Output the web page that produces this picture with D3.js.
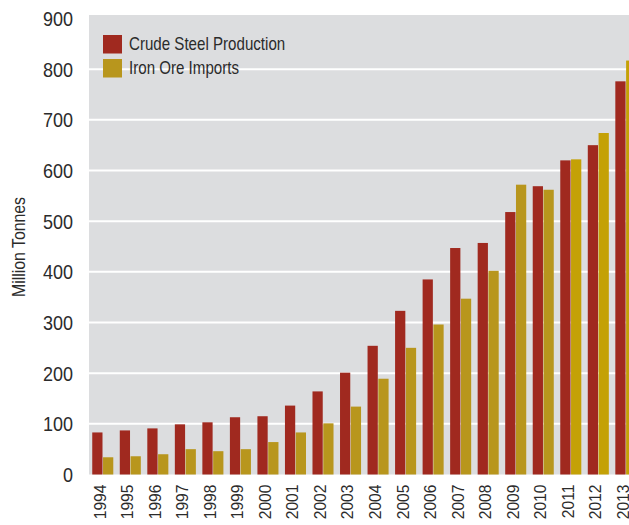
<!DOCTYPE html>
<html>
<head>
<meta charset="utf-8">
<script src="https://cdn.jsdelivr.net/npm/d3@7"></script>
<style>
  body { margin: 0; background: #fff; }
  text { font-family: "Liberation Sans", Arial, sans-serif; fill: #2b2b2b; }
</style>
</head>
<body>
<script>
// chart values
var years = ["1994","1995","1996","1997","1998","1999","2000","2001","2002","2003",
             "2004","2005","2006","2007","2008","2009","2010","2011","2012","2013"];
var steel = [83, 87, 91, 99, 103, 113, 115, 136, 164, 201,
             254, 323, 385, 447, 457, 518, 569, 620, 650, 776];
var ore   = [34, 36, 40, 50, 46, 50, 64, 83, 101, 134,
             189, 250, 296, 347, 402, 572, 562, 622, 674, 817];
var seriesNames = ["Crude Steel Production", "Iron Ore Imports"];
var yTicks = [0, 100, 200, 300, 400, 500, 600, 700, 800, 900];

var width = 629;
var height = 525;

// the original uses a condensed face; squeeze the text sideways to match
var squeeze = 0.84;

var svg = d3.select("body").append("svg")
  .attr("width", width)
  .attr("height", height)

var plotLeft = 89, plotTop = 15, plotBottom = 474.5;

var y = d3.scaleLinear()
  .domain([0, 900])
  .range([plotBottom, 18.5]);

var x = d3.scaleBand()
  .domain(years)
  .range([89, 89 + 20 * 27.53])
  .paddingInner(0.236)
  .paddingOuter(0.118);

var xs = d3.scaleBand()
  .domain(seriesNames)
  .range([0, x.bandwidth()])
  .paddingInner(0.05);

// grey plot background
svg.append("rect")
  .attr("x", plotLeft)
  .attr("y", plotTop)
  .attr("width", width - plotLeft)
  .attr("height", plotBottom - plotTop)
  .attr("fill", "#dcdddf");

// white gridlines
svg.selectAll(".grid")
  .data(yTicks.filter(function(d) { return d > 0 && d < 900; }))
  .enter().append("line")
    .attr("class", "grid")
    .attr("x1", plotLeft)
    .attr("x2", width)
    .attr("y1", function(d) { return y(d); })
    .attr("y2", function(d) { return y(d); })
    .attr("stroke", "#fff")
    .attr("stroke-width", 2);

// y axis labels (no domain line or ticks)
var yAxis = svg.append("g")
  .attr("transform", "translate(73,0)")
  .call(d3.axisLeft(y).tickValues(yTicks).tickSize(0).tickPadding(0));
yAxis.select(".domain").remove();
yAxis.selectAll("text")
  .attr("font-size", 20)
  .attr("x", 0)
  .attr("dy", "0.35em")
  .attr("transform", "scale(0.9,1)")
  .style("font-family", null);

// bars
var rows = years.map(function(yr, i) {
  return { year: yr, values: [
    { key: seriesNames[0], v: steel[i] },
    { key: seriesNames[1], v: ore[i] }
  ]};
});

function barColor(d, yr) {
  if (d.key == seriesNames[0]) return "#a0291f";
  return (+yr >= 2011) ? "#c4a106" : "#b8961d";
}

var groups = svg.selectAll(".yr")
  .data(rows)
  .enter().append("g")
    .attr("class", "yr")
    .attr("transform", function(d) { return "translate(" + x(d.year) + ",0)"; });

groups.selectAll("rect")
  .data(function(d) { return d.values.map(function(v) { v.year = d.year; return v; }); })
  .enter().append("rect")
    .attr("x", function(d) { return xs(d.key); })
    .attr("width", xs.bandwidth())
    .attr("y", function(d) { return y(d.v); })
    .attr("height", function(d) { return y(0) - y(d.v); })
    .attr("fill", function(d) { return barColor(d, d.year); });

// x axis labels, rotated
var xAxis = svg.append("g")
  .attr("transform", "translate(0," + (plotBottom + 10) + ")")
  .call(d3.axisBottom(x).tickSize(0).tickPadding(0));
xAxis.select(".domain").remove();
xAxis.selectAll("text")
  .attr("font-size", 17)
  .attr("text-anchor", "end")
  .attr("transform", "translate(-3,0) rotate(-90) scale(0.92,1)")
  .attr("x", 0)
  .attr("y", 0)
  .attr("dy", "0.35em")
  .style("font-family", null);

// y axis title
svg.append("text")
  .attr("transform", "translate(25,247) rotate(-90) scale(0.88,1)")
  .attr("text-anchor", "middle")
  .attr("font-size", 18)
  .text("Million Tonnes");

// legend
var legend = svg.selectAll(".legend")
  .data(seriesNames)
  .enter().append("g")
    .attr("class", "legend")
    .attr("transform", function(d, i) { return "translate(103," + (35 + i * 24) + ")"; });

legend.append("rect")
  .attr("width", 19)
  .attr("height", 18.5)
  .attr("fill", function(d, i) { return i == 0 ? "#a0291f" : "#b8961d"; });

legend.append("text")
  .attr("transform", "translate(26,15) scale(" + squeeze + ",1)")
  .attr("font-size", 18)
  .text(function(d) { return d; });
</script>
</body>
</html>
